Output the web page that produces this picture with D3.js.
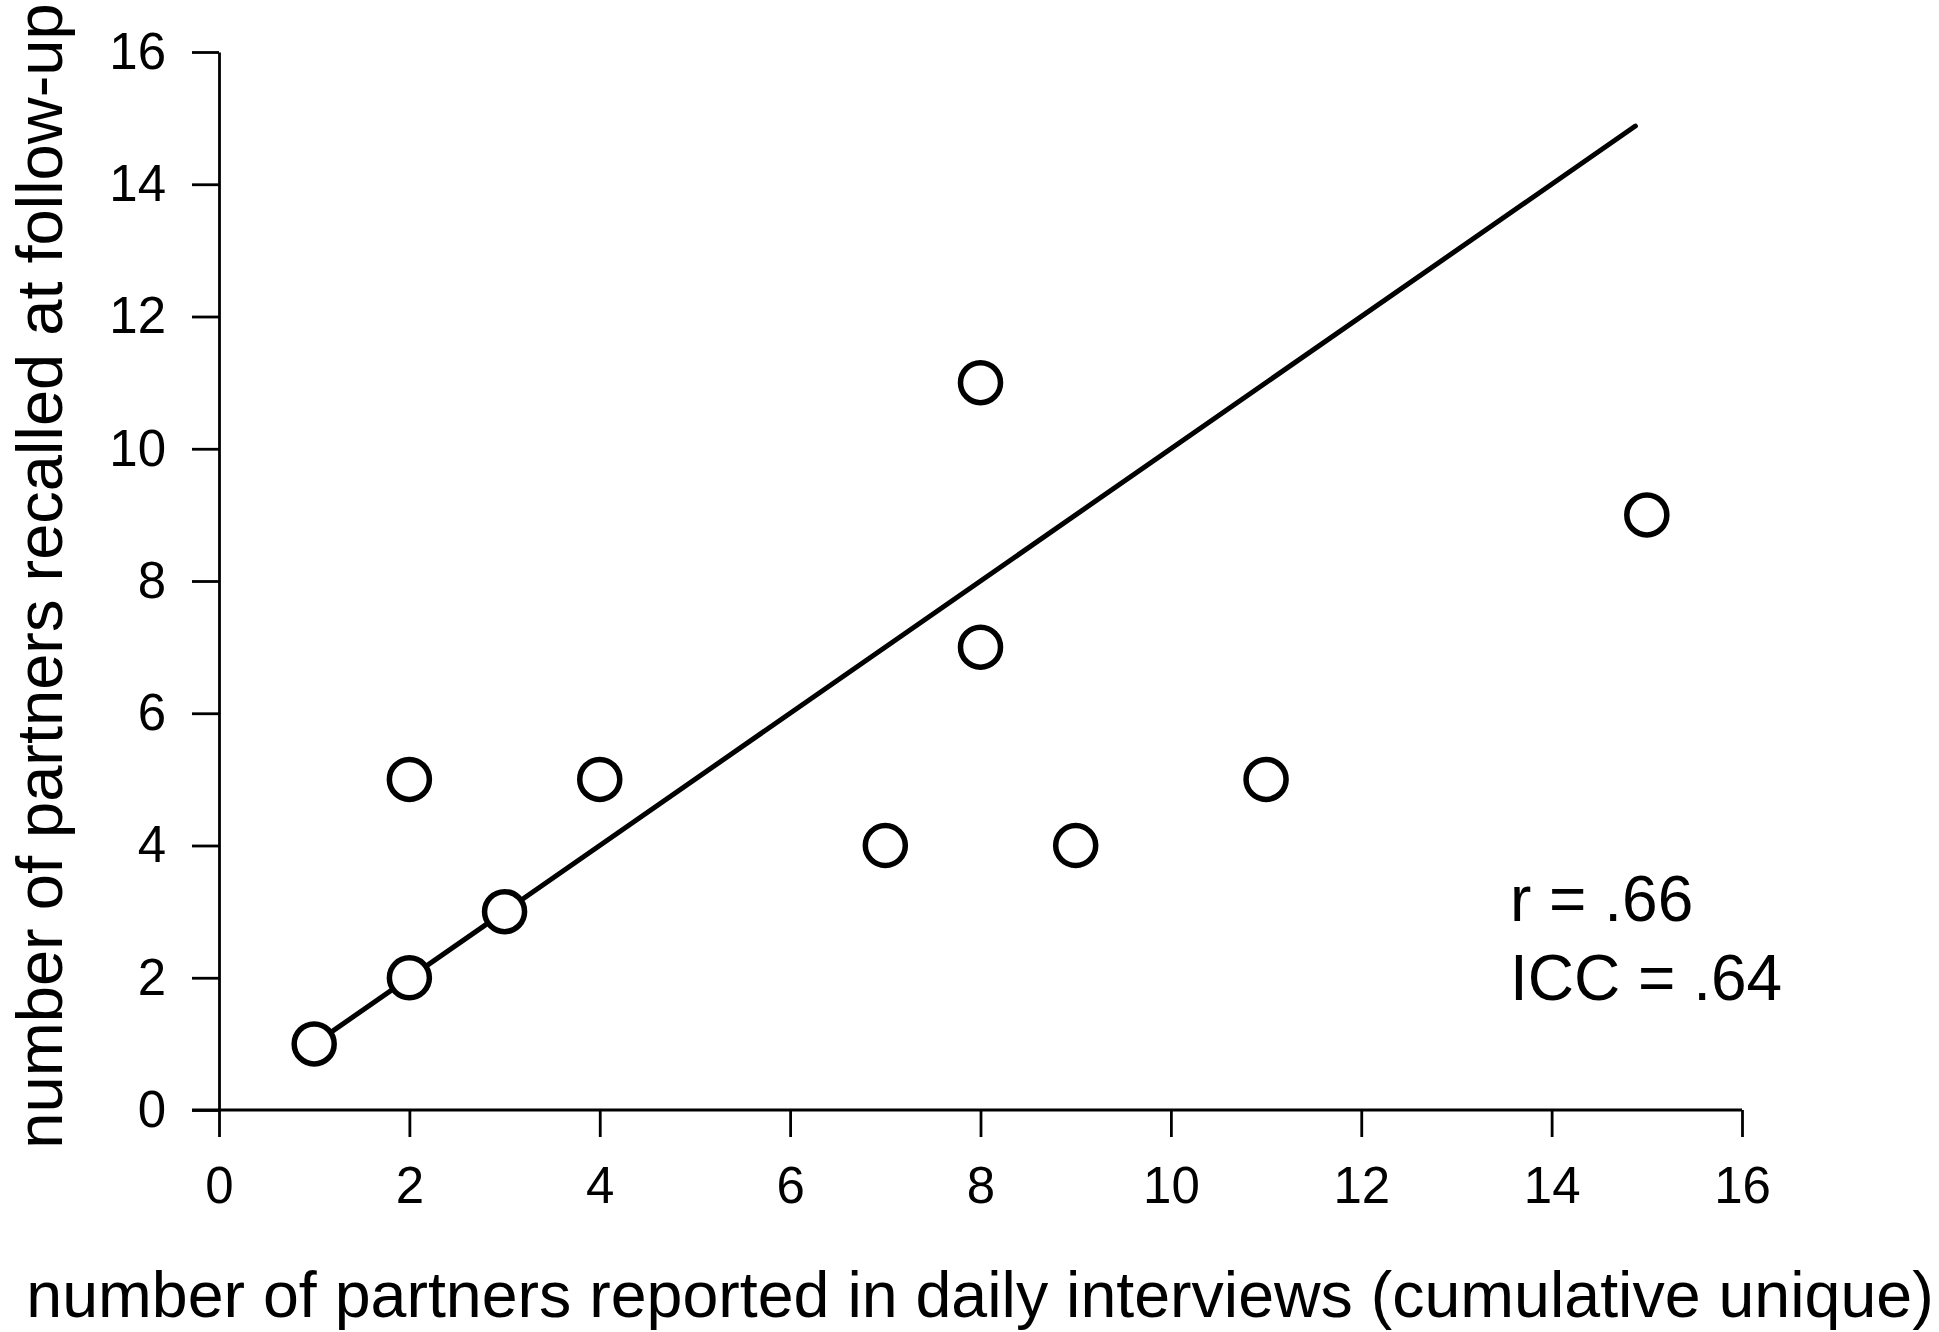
<!DOCTYPE html>
<html>
<head>
<meta charset="utf-8">
<script src="https://cdn.jsdelivr.net/npm/d3@7"></script>
<style>
  body { margin: 0; background: #fff; }
  svg text { font-family: "Liberation Sans", Arial, sans-serif; fill: #000; }
</style>
</head>
<body>
<svg id="viz" width="1939" height="1332"></svg>
<script>
var width = 1939;
var height = 1332;

// data
let reported = [1, 2, 2, 3, 4, 7, 8, 8, 9, 11, 15];
let recalled = [1, 2, 5, 3, 5, 4, 11, 7, 4, 5, 9];
let fit_x = [1, 14.88];   // fitted line y = x
let tick_values = [0, 2, 4, 6, 8, 10, 12, 14, 16];
let stats_text = ["r = .66", "ICC = .64"];

let x_title = "number of partners reported in daily interviews (cumulative unique)";
let y_title = "number of partners recalled at follow-up";

let svg = d3.select("#viz");

let x = d3.scaleLinear().domain([0, 16]).range([219, 1742]);
let y = d3.scaleLinear().domain([0, 16]).range([1110, 52]);

// x axis
let xAxis = svg.append("g")
	.attr("transform", "translate(0," + y(0) + ")")
	.call(d3.axisBottom(x).tickValues(tick_values).tickSize(27).tickPadding(30).tickSizeOuter(0));

// y axis
let yAxis = svg.append("g")
	.attr("transform", "translate(" + x(0) + ",0)")
	.call(d3.axisLeft(y).tickValues(tick_values).tickSize(27).tickPadding(26).tickSizeOuter(0));

[xAxis, yAxis].forEach(function (a) {
	a.select(".domain").attr("stroke", "#000").attr("stroke-width", 2.8);
	a.selectAll(".tick line").attr("stroke", "#000").attr("stroke-width", 2.8);
	a.selectAll(".tick text")
		.attr("font-size", 51)
		.style("font-family", "'Liberation Sans', Arial, sans-serif")
		.attr("fill", "#000");
});
// x axis line runs out to the left under the y=0 tick
xAxis.select(".domain").attr("d", "M" + (x(0) - 27) + ",0H" + x(16));

// fitted line
let line = d3.line()
	.x(function (d) { return x(d); })
	.y(function (d) { return y(d); });

svg.append("path")
	.datum(fit_x)
	.attr("d", line)
	.attr("fill", "none")
	.attr("stroke", "#000")
	.attr("stroke-width", 5)
	.attr("stroke-linecap", "round");

// points
svg.append("g")
	.selectAll("circle")
	.data(reported)
	.enter()
	.append("circle")
	.attr("cx", function (d) { return x(d); })
	.attr("cy", function (d, i) { return y(recalled[i]); })
	.attr("r", 20)
	.attr("fill", "#fff")
	.attr("stroke", "#000")
	.attr("stroke-width", 5.5);

// stats
svg.append("g")
	.selectAll("text")
	.data(stats_text)
	.enter()
	.append("text")
	.attr("x", 1510)
	.attr("y", function (d, i) { return 921 + i * 79; })
	.attr("font-size", 64)
	.text(function (d) { return d; });

// axis titles
svg.append("text")
	.attr("x", 980)
	.attr("y", 1317)
	.attr("text-anchor", "middle")
	.attr("font-size", 64.5)
	.text(x_title);

svg.append("text")
	.attr("transform", "translate(62,576) rotate(-90)")
	.attr("text-anchor", "middle")
	.attr("font-size", 65)
	.text(y_title);
</script>
</body>
</html>
